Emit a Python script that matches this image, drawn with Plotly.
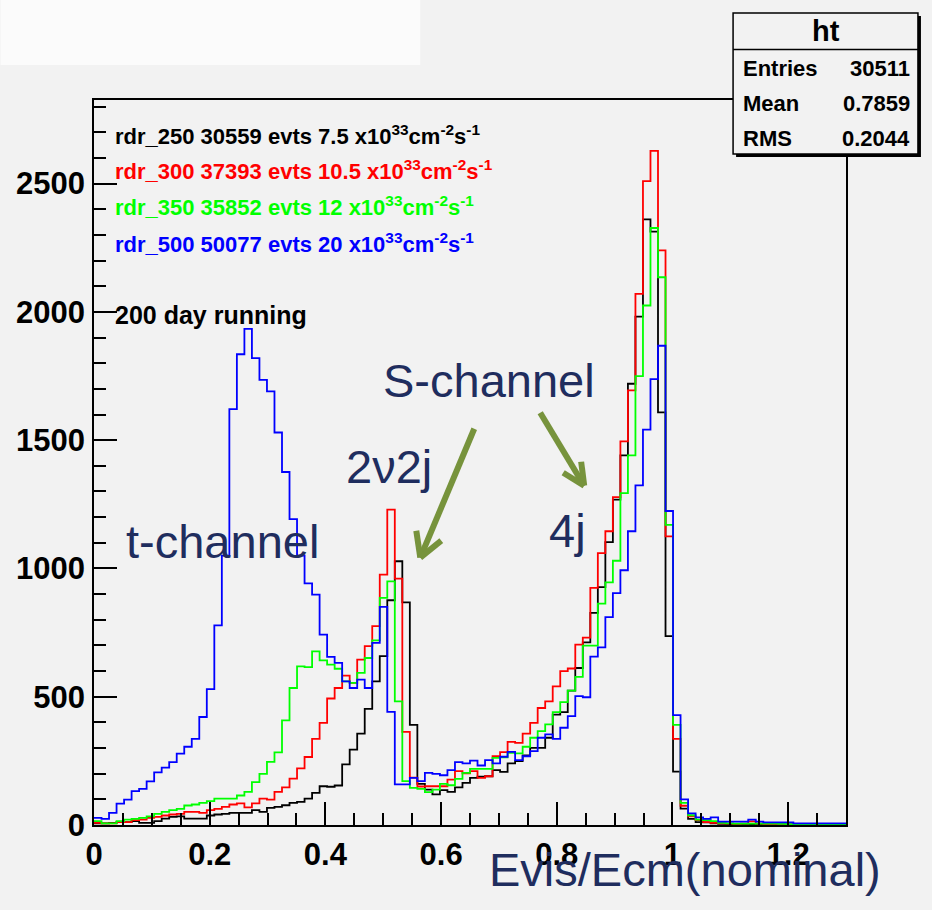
import plotly.graph_objects as go

# ---------------- data (100 bins, 0 .. 1.3) ----------------
X_MIN, X_MAX, N_BINS = 0.0, 1.3, 100

rdr_250 = [6, 6, 8, 11, 11, 15, 8, 8, 15, 25,
           32, 34, 25, 25, 25, 37, 41, 43, 47, 47,
           47, 58, 51, 67, 71, 77, 86, 90, 103, 125,
           151, 149, 154, 236, 294, 356, 453, 560, 658, 876,
           1028, 868, 390, 160, 138, 119, 136, 129, 147, 164,
           184, 188, 190, 214, 207, 240, 249, 271, 301, 301,
           340, 430, 440, 524, 612, 712, 827, 927, 1103, 1268,
           1441, 1720, 1982, 2361, 2313, 1608, 736, 208, 64, 24,
           11, 10, 6, 4, 3, 3, 2, 3, 2, 2,
           1, 2, 1, 1, 1, 0, 1, 0, 0, 0]

rdr_300 = [8, 6, 6, 11, 11, 19, 21, 28, 32, 37,
           41, 43, 51, 51, 47, 58, 63, 71, 80, 84,
           69, 84, 103, 99, 129, 147, 181, 221, 265, 336,
           398, 493, 534, 582, 554, 645, 697, 775, 976, 1229,
           960, 363, 185, 150, 151, 151, 151, 177, 210, 201,
           210, 184, 190, 268, 284, 324, 320, 356, 398, 456,
           482, 540, 600, 610, 703, 730, 924, 1060, 1145, 1278,
           1495, 1694, 2070, 2510, 2628, 2240, 1125, 336, 75, 34,
           19, 11, 8, 6, 5, 4, 5, 14, 5, 3,
           3, 2, 2, 1, 1, 1, 0, 1, 0, 0]

rdr_350 = [15, 6, 6, 15, 21, 24, 28, 34, 43, 51,
           58, 63, 76, 80, 86, 93, 103, 103, 103, 115,
           129, 167, 199, 246, 283, 408, 534, 618, 615, 677,
           642, 625, 609, 560, 554, 593, 651, 720, 885, 950,
           482, 171, 145, 141, 128, 138, 160, 155, 180, 203,
           219, 219, 219, 262, 264, 281, 279, 305, 340, 366,
           392, 440, 479, 524, 577, 699, 699, 863, 946, 1030,
           1294, 1441, 1750, 2025, 2327, 2135, 1170, 390, 86, 38,
           21, 19, 15, 8, 6, 5, 5, 5, 5, 5,
           5, 4, 3, 3, 2, 2, 1, 1, 1, 0]

rdr_500 = [28, 24, 47, 83, 99, 132, 141, 170, 205, 224,
           245, 278, 305, 336, 421, 530, 778, 1050, 1621, 1835,
           1934, 1820, 1735, 1690, 1530, 1376, 1192, 1050, 942, 898,
           742, 655, 632, 560, 534, 567, 534, 710, 850, 441,
           158, 158, 184, 171, 203, 199, 194, 214, 245, 240,
           251, 232, 253, 240, 266, 285, 253, 268, 288, 340,
           353, 336, 379, 424, 502, 498, 656, 692, 810, 904,
           993, 1145, 1324, 1541, 1738, 1868, 1224, 428, 100, 45,
           30, 24, 30, 13, 13, 13, 13, 21, 13, 10,
           10, 10, 10, 6, 6, 6, 6, 6, 6, 6]

series_names = ["rdr_250", "rdr_300", "rdr_350", "rdr_500"]
series_values = [rdr_250, rdr_300, rdr_350, rdr_500]
series_colors = ["#000000", "#ff0000", "#00ff00", "#0000ff"]
legend_lines = [
    "rdr_250 30559 evts 7.5 x10<sup>33</sup>cm<sup>-2</sup>s<sup>-1</sup>",
    "rdr_300 37393 evts 10.5 x10<sup>33</sup>cm<sup>-2</sup>s<sup>-1</sup>",
    "rdr_350 35852 evts 12 x10<sup>33</sup>cm<sup>-2</sup>s<sup>-1</sup>",
    "rdr_500 50077 evts 20 x10<sup>33</sup>cm<sup>-2</sup>s<sup>-1</sup>",
]
stats_rows = [("Entries", "30511"), ("Mean", "0.7859"), ("RMS", "0.2044")]
x_ticks = [0, 0.2, 0.4, 0.6, 0.8, 1.0, 1.2]
x_tick_text = ["0", "0.2", "0.4", "0.6", "0.8", "1", "1.2"]
y_ticks = [0, 500, 1000, 1500, 2000, 2500]

# ---------------- layout geometry (pixels) ----------------
W, H = 932, 910
L, R, T, B = 93.5, 846.0, 100.0, 825.5
Y_MAX = 2826
BG = "#f2f2f2"
NAVY = "#1f2d5e"
OLIVE = "#77933c"
FONT = "Liberation Sans"


def px_x(p):
    return (p - L) / (R - L)


def px_y(p):
    return (B - p) / (B - T)


edges = [X_MIN + i * (X_MAX - X_MIN) / N_BINS for i in range(N_BINS + 1)]

fig = go.Figure()
for name, vals, col in zip(series_names, series_values, series_colors):
    fig.add_trace(go.Scatter(
        x=edges, y=list(vals) + [vals[-1]], mode="lines", name=name,
        line=dict(color=col, width=1.8, shape="hv"), hoverinfo="skip",
        showlegend=False))

annotations = []
# legend-like text block
for txt, col, base in zip(legend_lines, series_colors, [143.3, 179.0, 215.0, 251.7]):
    annotations.append(dict(
        x=px_x(112.5), y=px_y(base - 8.5), xref="paper", yref="paper",
        xanchor="left", yanchor="middle", showarrow=False,
        text="<b>" + txt + "</b>", font=dict(family=FONT, size=22, color=col)))
annotations.append(dict(
    x=px_x(112.5), y=px_y(323.3 - 8.5), xref="paper", yref="paper",
    xanchor="left", yanchor="middle", showarrow=False,
    text="<b>200 day running</b>", font=dict(family=FONT, size=25, color="#000000")))

# big navy labels
for txt, cx, base in [("t-channel", 222.5, 558), ("S-channel", 488.5, 397),
                      ("2\u03bd2j", 388.5, 483), ("4j", 567.5, 547),
                      ("Evis/Ecm(nominal)", 684.5, 887)]:
    annotations.append(dict(
        x=px_x(cx), y=px_y(base - 16.5), xref="paper", yref="paper",
        xanchor="center", yanchor="middle", showarrow=False,
        text=txt, font=dict(family=FONT, size=47, color=NAVY)))

# stats box text
BOX_L, BOX_R, BOX_T, BOX_B, BOX_SEP = 733, 918, 13, 154, 49.5
annotations.append(dict(
    x=px_x((BOX_L + BOX_R) / 2), y=px_y(31), xref="paper", yref="paper",
    xanchor="center", yanchor="middle", showarrow=False,
    text="<b>ht</b>", font=dict(family=FONT, size=29, color="#000000")))
for (lab, val), cy in zip(stats_rows, [68, 104, 139]):
    annotations.append(dict(
        x=px_x(741), y=px_y(cy), xref="paper", yref="paper",
        xanchor="left", yanchor="middle", showarrow=False,
        text="<b>" + lab + "</b>", font=dict(family=FONT, size=22, color="#000000")))
    annotations.append(dict(
        x=px_x(912), y=px_y(cy), xref="paper", yref="paper",
        xanchor="right", yanchor="middle", showarrow=False,
        text="<b>" + val + "</b>", font=dict(family=FONT, size=22, color="#000000")))

shapes = []
# lighter slide background behind the pasted canvas (top-left band)
shapes.append(dict(type="rect", xref="paper", yref="paper", layer="below",
                   x0=px_x(0), x1=px_x(420), y0=px_y(0), y1=px_y(65),
                   fillcolor="#fbfbfb", line=dict(width=0)))
# stats box shadow + box
shapes.append(dict(type="rect", xref="paper", yref="paper",
                   x0=px_x(BOX_L + 3), x1=px_x(BOX_R + 3), y0=px_y(BOX_T + 3), y1=px_y(BOX_B + 3),
                   fillcolor="#000000", line=dict(width=0)))
shapes.append(dict(type="rect", xref="paper", yref="paper",
                   x0=px_x(BOX_L), x1=px_x(BOX_R), y0=px_y(BOX_T), y1=px_y(BOX_B),
                   fillcolor=BG, line=dict(color="#000000", width=1.5)))
shapes.append(dict(type="line", xref="paper", yref="paper",
                   x0=px_x(BOX_L), x1=px_x(BOX_R), y0=px_y(BOX_SEP), y1=px_y(BOX_SEP),
                   line=dict(color="#000000", width=1.5)))


# arrows (olive, open heads)
def arrow(tail, tip, w1, w2):
    for a, b in [(tail, tip), (w1, tip), (w2, tip)]:
        shapes.append(dict(type="line", xref="paper", yref="paper",
                           x0=px_x(a[0]), y0=px_y(a[1]), x1=px_x(b[0]), y1=px_y(b[1]),
                           line=dict(color=OLIVE, width=6)))


arrow((474, 429), (420, 558), (416, 531), (441, 541))
arrow((540, 413), (584, 486), (581, 462), (563, 473))

tick_font = dict(family=FONT, size=31, color="#000000", weight="bold")
fig.update_layout(
    width=W, height=H,
    margin=dict(l=L, r=W - R, t=T, b=H - B, pad=0, autoexpand=False),
    paper_bgcolor=BG, plot_bgcolor=BG,
    showlegend=False,
    annotations=annotations, shapes=shapes,
    xaxis=dict(range=[X_MIN, X_MAX], showgrid=False, zeroline=False, automargin=False,
               showline=True, linecolor="#000000", linewidth=1.5, mirror=True,
               ticks="inside", ticklen=23, tickwidth=1.5, tickcolor="#000000",
               tickvals=x_ticks, ticktext=x_tick_text,
               minor=dict(dtick=0.05, ticks="inside", ticklen=12, tickwidth=1.5,
                          tickcolor="#000000", showgrid=False),
               tickfont=tick_font, ticklabelstandoff=1),
    yaxis=dict(range=[0, Y_MAX], showgrid=False, zeroline=False, automargin=False,
               showline=True, linecolor="#000000", linewidth=1.5, mirror=True,
               ticks="inside", ticklen=23, tickwidth=1.5, tickcolor="#000000",
               tickvals=y_ticks, tickformat="d",
               minor=dict(dtick=100, ticks="inside", ticklen=12, tickwidth=1.5,
                          tickcolor="#000000", showgrid=False),
               tickfont=tick_font, ticklabelstandoff=1),
)

fig.write_html("out.html")
